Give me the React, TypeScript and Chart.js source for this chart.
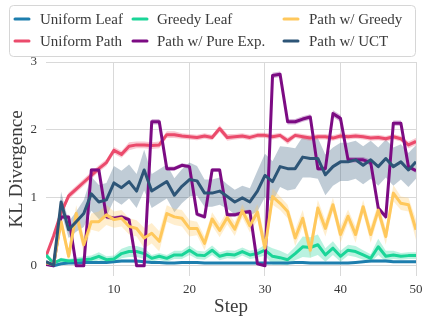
import { useEffect, useRef } from 'react';
import { Chart, registerables } from 'chart.js';

Chart.register(...registerables);

const steps = [1, 2, 3, 4, 5, 6, 7, 8, 9, 10, 11, 12, 13, 14, 15, 16, 17, 18, 19, 20, 21, 22, 23, 24, 25, 26, 27, 28, 29, 30, 31, 32, 33, 34, 35, 36, 37, 38, 39, 40, 41, 42, 43, 44, 45, 46, 47, 48, 49, 50];

const seriesNames = ['Uniform Leaf', 'Uniform Path', 'Greedy Leaf', 'Path w/ Pure Exp.', 'Path w/ Greedy', 'Path w/ UCT'];
const seriesColors = ['#1d7eae', '#eb4b6c', '#1ad598', '#7c0b83', '#ffc85c', '#2d5577'];

const uniformLeaf = [0.03, 0.00, 0.03, 0.04, 0.04, 0.05, 0.05, 0.05, 0.05, 0.06, 0.07, 0.07, 0.07, 0.06, 0.05, 0.05, 0.04, 0.04, 0.05, 0.05, 0.05, 0.04, 0.04, 0.04, 0.04, 0.04, 0.04, 0.04, 0.04, 0.04, 0.04, 0.04, 0.04, 0.05, 0.05, 0.04, 0.04, 0.04, 0.04, 0.04, 0.04, 0.05, 0.06, 0.07, 0.07, 0.07, 0.06, 0.06, 0.06, 0.06];
const uniformLeafStd = [0.01, 0.01, 0.01, 0.01, 0.01, 0.01, 0.01, 0.01, 0.01, 0.01, 0.02, 0.02, 0.02, 0.01, 0.01, 0.01, 0.01, 0.01, 0.01, 0.01, 0.01, 0.01, 0.01, 0.01, 0.01, 0.01, 0.01, 0.01, 0.01, 0.01, 0.01, 0.01, 0.01, 0.01, 0.01, 0.01, 0.01, 0.01, 0.01, 0.01, 0.01, 0.01, 0.01, 0.02, 0.02, 0.02, 0.01, 0.01, 0.01, 0.01];

const uniformPath = [0.14, 0.44, 0.78, 1.03, 1.13, 1.23, 1.33, 1.43, 1.52, 1.70, 1.64, 1.76, 1.78, 1.78, 1.77, 1.78, 1.93, 1.93, 1.91, 1.90, 1.89, 1.91, 1.89, 2.02, 1.89, 1.90, 1.91, 1.89, 1.92, 1.92, 1.90, 1.92, 1.84, 1.92, 1.90, 1.88, 1.90, 1.90, 1.88, 1.91, 1.90, 1.91, 1.90, 1.88, 1.89, 1.87, 1.90, 1.87, 1.78, 1.83];
const uniformPathStd = [0.02, 0.04, 0.05, 0.05, 0.05, 0.05, 0.05, 0.05, 0.05, 0.05, 0.05, 0.06, 0.05, 0.05, 0.05, 0.05, 0.05, 0.05, 0.04, 0.04, 0.04, 0.04, 0.04, 0.05, 0.05, 0.04, 0.04, 0.04, 0.04, 0.04, 0.04, 0.04, 0.05, 0.04, 0.04, 0.04, 0.04, 0.04, 0.04, 0.04, 0.04, 0.04, 0.04, 0.04, 0.04, 0.04, 0.04, 0.04, 0.05, 0.05];

const greedyLeaf = [0.16, 0.04, 0.09, 0.07, 0.08, 0.09, 0.10, 0.14, 0.09, 0.10, 0.18, 0.21, 0.21, 0.18, 0.11, 0.14, 0.11, 0.16, 0.16, 0.23, 0.16, 0.15, 0.23, 0.14, 0.17, 0.16, 0.21, 0.16, 0.18, 0.23, 0.14, 0.12, 0.09, 0.18, 0.28, 0.27, 0.31, 0.16, 0.26, 0.14, 0.23, 0.21, 0.16, 0.11, 0.28, 0.14, 0.16, 0.14, 0.15, 0.15];
const greedyLeafStd = [0.04, 0.02, 0.03, 0.03, 0.04, 0.05, 0.05, 0.06, 0.05, 0.05, 0.07, 0.08, 0.08, 0.08, 0.05, 0.05, 0.05, 0.06, 0.06, 0.07, 0.06, 0.06, 0.07, 0.06, 0.06, 0.06, 0.06, 0.06, 0.06, 0.08, 0.12, 0.10, 0.08, 0.10, 0.15, 0.15, 0.15, 0.10, 0.10, 0.08, 0.08, 0.08, 0.07, 0.06, 0.12, 0.08, 0.06, 0.05, 0.05, 0.05];

const pureExp = [0.02, 0.00, 0.72, 0.72, 0.00, 0.00, 1.41, 1.41, 0.72, 0.70, 0.72, 0.68, 0.00, 0.00, 2.12, 2.12, 1.43, 1.43, 1.48, 1.46, 0.76, 0.72, 1.41, 1.41, 0.75, 0.75, 0.78, 0.80, 0.03, 0.00, 2.80, 2.82, 2.12, 2.12, 2.16, 2.19, 1.43, 1.43, 2.24, 2.17, 1.56, 1.56, 1.56, 1.52, 0.85, 0.72, 2.10, 2.10, 1.46, 1.40];
const pureExpStd = [0.01, 0.01, 0.03, 0.03, 0.01, 0.01, 0.03, 0.03, 0.03, 0.03, 0.03, 0.03, 0.01, 0.01, 0.04, 0.04, 0.03, 0.03, 0.03, 0.03, 0.03, 0.03, 0.03, 0.03, 0.03, 0.03, 0.03, 0.03, 0.01, 0.01, 0.04, 0.04, 0.04, 0.04, 0.04, 0.04, 0.03, 0.03, 0.05, 0.05, 0.04, 0.04, 0.04, 0.04, 0.04, 0.04, 0.04, 0.04, 0.03, 0.03];

const pathGreedy = [0.04, 0.02, 0.65, 0.14, 0.77, 0.31, 0.65, 0.65, 0.75, 0.68, 0.70, 0.58, 0.55, 0.41, 0.48, 0.36, 0.77, 0.72, 0.70, 0.55, 0.55, 0.33, 0.69, 0.52, 0.71, 0.54, 0.81, 0.59, 0.79, 0.26, 1.02, 0.92, 0.80, 0.41, 0.70, 0.23, 0.85, 0.55, 0.90, 0.46, 0.73, 0.46, 0.87, 0.46, 0.82, 0.43, 1.07, 0.92, 0.90, 0.53];
const pathGreedyStd = [0.02, 0.01, 0.10, 0.10, 0.12, 0.12, 0.12, 0.15, 0.15, 0.12, 0.12, 0.12, 0.12, 0.15, 0.15, 0.15, 0.12, 0.12, 0.12, 0.12, 0.10, 0.10, 0.10, 0.10, 0.10, 0.10, 0.10, 0.10, 0.12, 0.15, 0.12, 0.10, 0.10, 0.12, 0.12, 0.12, 0.12, 0.12, 0.10, 0.12, 0.10, 0.12, 0.10, 0.12, 0.10, 0.12, 0.12, 0.10, 0.10, 0.15];

const pathUct = [0.06, 0.01, 0.94, 0.53, 0.65, 0.77, 1.06, 0.94, 0.97, 1.22, 1.15, 1.24, 1.10, 1.41, 1.10, 1.17, 1.24, 1.04, 1.17, 1.27, 1.25, 1.07, 1.07, 1.10, 1.02, 0.94, 1.00, 0.94, 1.10, 1.33, 1.24, 1.46, 1.43, 1.43, 1.60, 1.58, 1.58, 1.34, 1.46, 1.53, 1.53, 1.56, 1.48, 1.56, 1.46, 1.58, 1.46, 1.53, 1.41, 1.53];
const pathUctStd = [0.03, 0.02, 0.15, 0.12, 0.15, 0.20, 0.25, 0.25, 0.25, 0.25, 0.25, 0.25, 0.25, 0.30, 0.25, 0.25, 0.25, 0.25, 0.25, 0.25, 0.22, 0.20, 0.20, 0.20, 0.18, 0.18, 0.18, 0.20, 0.30, 0.32, 0.30, 0.30, 0.32, 0.30, 0.30, 0.28, 0.30, 0.30, 0.28, 0.28, 0.28, 0.28, 0.28, 0.28, 0.28, 0.28, 0.28, 0.26, 0.25, 0.25];

const xTicks = [10, 20, 30, 40, 50];
const yTicks = [0, 1, 2, 3];

const seriesMeans = [uniformLeaf, uniformPath, greedyLeaf, pureExp, pathGreedy, pathUct];
const seriesStds = [uniformLeafStd, uniformPathStd, greedyLeafStd, pureExpStd, pathGreedyStd, pathUctStd];

const FONT = '"Liberation Serif", "DejaVu Serif", serif';
const TEXT_COLOR = '#3a3a3a';

function hexToRgba(hex: string, a: number) {
  const n = parseInt(hex.slice(1), 16);
  return `rgba(${(n >> 16) & 255}, ${(n >> 8) & 255}, ${n & 255}, ${a})`;
}

const legendPlugin = {
  id: 'gridLegend',
  afterDraw(chart: any) {
    const ctx = chart.ctx as CanvasRenderingContext2D;
    ctx.save();
    const x = 9.5, y = 5.5, w = 406, h = 51, r = 4;
    ctx.beginPath();
    ctx.moveTo(x + r, y);
    ctx.lineTo(x + w - r, y);
    ctx.arcTo(x + w, y, x + w, y + r, r);
    ctx.lineTo(x + w, y + h - r);
    ctx.arcTo(x + w, y + h, x + w - r, y + h, r);
    ctx.lineTo(x + r, y + h);
    ctx.arcTo(x, y + h, x, y + h - r, r);
    ctx.lineTo(x, y + r);
    ctx.arcTo(x, y, x + r, y, r);
    ctx.closePath();
    ctx.fillStyle = 'rgba(255,255,255,0.8)';
    ctx.fill();
    ctx.strokeStyle = '#d6d6d6';
    ctx.lineWidth = 1;
    ctx.stroke();

    const markerX = [14, 132, 283];
    const textX = [40, 157, 309];
    const rowY = [19, 41];
    ctx.font = `15px ${FONT}`;
    ctx.textBaseline = 'middle';
    ctx.textAlign = 'left';
    seriesNames.forEach((name, i) => {
      const col = Math.floor(i / 2);
      const row = i % 2;
      ctx.strokeStyle = seriesColors[i];
      ctx.lineWidth = 3;
      ctx.lineCap = 'round';
      ctx.beginPath();
      ctx.moveTo(markerX[col] + 1, rowY[row]);
      ctx.lineTo(markerX[col] + 15, rowY[row]);
      ctx.stroke();
      ctx.fillStyle = TEXT_COLOR;
      ctx.fillText(name, textX[col], rowY[row] + 1);
    });
    ctx.restore();
  },
};

export default function App() {
  const canvasRef = useRef<HTMLCanvasElement | null>(null);

  useEffect(() => {
    if (!canvasRef.current) return;
    const datasets: any[] = [];
    seriesNames.forEach((name, i) => {
      const mean = seriesMeans[i];
      const std = seriesStds[i];
      const color = seriesColors[i];
      datasets.push({
        label: name + ' upper',
        data: steps.map((s, k) => ({ x: s, y: mean[k] + std[k] })),
        borderWidth: 0,
        pointRadius: 0,
        fill: false,
        order: 20 + i,
      });
      datasets.push({
        label: name + ' lower',
        data: steps.map((s, k) => ({ x: s, y: mean[k] - std[k] })),
        borderWidth: 0,
        pointRadius: 0,
        fill: '-1',
        backgroundColor: hexToRgba(color, 0.3),
        order: 20 + i,
      });
    });
    seriesNames.forEach((name, i) => {
      datasets.push({
        label: name,
        data: steps.map((s, k) => ({ x: s, y: seriesMeans[i][k] })),
        borderColor: seriesColors[i],
        borderWidth: 3,
        borderJoinStyle: 'round',
        pointRadius: 0,
        fill: false,
        tension: 0,
        order: 10 - i,
      });
    });

    const chart = new Chart(canvasRef.current, {
      type: 'line',
      data: { datasets },
      options: {
        animation: false,
        responsive: false,
        maintainAspectRatio: false,
        events: [],
        layout: { padding: { top: 62, right: 7, left: 0, bottom: 0 } },
        plugins: {
          legend: { display: false },
          tooltip: { enabled: false },
        },
        scales: {
          x: {
            type: 'linear',
            min: 1,
            max: 50,
            afterBuildTicks: (scale: any) => {
              scale.ticks = xTicks.map((v) => ({ value: v }));
            },
            afterFit: (scale: any) => {
              scale.height = 42;
              scale.paddingRight = 0;
              scale.paddingLeft = 0;
            },
            grid: { color: '#d9d9d9', lineWidth: 1, drawTicks: false },
            border: { display: false },
            ticks: {
              font: { family: FONT, size: 13 },
              color: TEXT_COLOR,
              padding: 6,
              maxRotation: 0,
            },
            title: {
              display: true,
              text: 'Step',
              font: { family: FONT, size: 19 },
              color: TEXT_COLOR,
              padding: { top: 0, bottom: 0 },
            },
          },
          y: {
            type: 'linear',
            min: -0.15,
            max: 3,
            afterBuildTicks: (scale: any) => {
              scale.ticks = yTicks.map((v) => ({ value: v }));
            },
            afterFit: (scale: any) => {
              scale.width = 46;
              scale.paddingTop = 0;
              scale.paddingBottom = 0;
            },
            grid: { color: '#d9d9d9', lineWidth: 1, drawTicks: false },
            border: { display: false },
            ticks: {
              font: { family: FONT, size: 13 },
              color: TEXT_COLOR,
              padding: 9,
            },
            title: {
              display: true,
              text: 'KL Divergence',
              font: { family: FONT, size: 19 },
              color: TEXT_COLOR,
              padding: { top: 6, bottom: 0 },
            },
          },
        },
      },
      plugins: [legendPlugin],
    });
    return () => chart.destroy();
  }, []);

  return (
    <div style={{ position: 'absolute', left: 0, top: 0, width: 423, height: 318, background: '#fff' }}>
      <canvas ref={canvasRef} width={423} height={318} style={{ width: 423, height: 318 }} />
    </div>
  );
}
